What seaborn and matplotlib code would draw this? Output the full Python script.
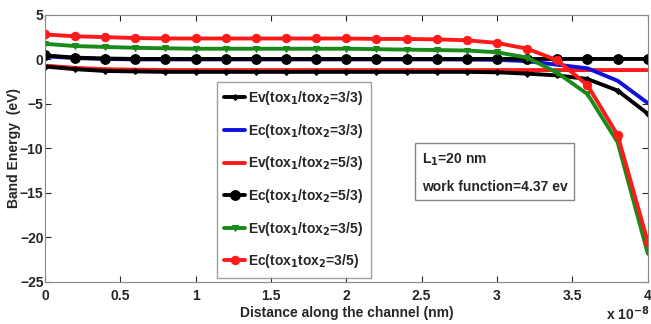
import numpy as np
import pandas as pd
import seaborn as sns
import matplotlib.pyplot as plt

# distance along the channel, in units of 1e-8 m
x = [0.0, 0.2, 0.4, 0.6, 0.8, 1.0, 1.2, 1.4, 1.6, 1.8, 2.0,
     2.2, 2.4, 2.6, 2.8, 3.0, 3.2, 3.4, 3.6, 3.8, 4.0]

ev_33 = [-0.8, -1.1, -1.3, -1.35, -1.4, -1.4, -1.4, -1.4, -1.4, -1.4, -1.4,
         -1.4, -1.4, -1.4, -1.4, -1.45, -1.6, -1.8, -2.2, -3.5, -6.1]
ec_33 = [0.35, 0.15, 0.05, 0.0, 0.0, 0.0, 0.0, 0.0, 0.0, 0.0, 0.0,
         0.0, 0.0, 0.0, -0.02, -0.05, -0.2, -0.6, -1.0, -2.4, -4.9]
ev_53 = [-0.7, -0.95, -1.1, -1.15, -1.2, -1.2, -1.2, -1.2, -1.2, -1.2, -1.2,
         -1.2, -1.2, -1.2, -1.2, -1.2, -1.2, -1.2, -1.2, -1.2, -1.2]
ec_53 = [0.45, 0.2, 0.1, 0.05, 0.05, 0.05, 0.05, 0.05, 0.05, 0.05, 0.05,
         0.05, 0.05, 0.05, 0.05, 0.05, 0.05, 0.05, 0.05, 0.05, 0.05]
ev_35 = [1.75, 1.5, 1.4, 1.3, 1.25, 1.2, 1.2, 1.2, 1.2, 1.2, 1.2,
         1.15, 1.1, 1.05, 1.0, 0.8, 0.2, -1.5, -3.9, -9.3, -21.8]
ec_35 = [2.8, 2.6, 2.5, 2.4, 2.35, 2.35, 2.35, 2.35, 2.35, 2.35, 2.35,
         2.3, 2.3, 2.25, 2.15, 1.85, 1.2, -0.1, -2.9, -8.5, -20.5]

labels = ["Ev(tox$_1$/tox$_2$=3/3)", "Ec(tox$_1$/tox$_2$=3/3)",
          "Ev(tox$_1$/tox$_2$=5/3)", "Ec(tox$_1$/tox$_2$=5/3)",
          "Ev(tox$_1$/tox$_2$=3/5)", "Ec(tox$_1$tox$_2$=3/5)"]

sns.set_style("ticks")
plt.rcParams['font.family'] = ['Liberation Sans', 'DejaVu Sans']
plt.rcParams['font.weight'] = 'bold'
plt.rcParams['xtick.direction'] = 'in'
plt.rcParams['ytick.direction'] = 'in'

fig, ax = plt.subplots(figsize=(6.51, 3.24), dpi=100)
fig.subplots_adjust(left=0.069, right=0.995, top=0.954, bottom=0.13)

# draw order: flat red first so the others sit on top of it
series = [
    (ev_53, labels[2], "#ff1a1a", None, 0),
    (ev_33, labels[0], "black", "D", 3),
    (ec_33, labels[1], "#1010e0", None, 0),
    (ec_53, labels[3], "black", "o", 7),
    (ev_35, labels[4], "#1a8a1a", "v", 5),
    (ec_35, labels[5], "#ff1a1a", "o", 6),
]
handles = {}
for vals, lab, col, mk, ms in series:
    sns.lineplot(x=x, y=vals, ax=ax, color=col, linewidth=2.8,
                 marker=mk, markersize=ms, markeredgecolor=col,
                 label=lab, legend=False)
    handles[lab] = ax.lines[-1]

ax.set_xlim(0, 4)
ax.set_ylim(-25, 5)
ax.set_xticks([0, 0.5, 1, 1.5, 2, 2.5, 3, 3.5, 4])
ax.set_xticklabels(["0", "0.5", "1", "1.5", "2", "2.5", "3", "3.5", "4"])
ax.set_yticks([5, 0, -5, -10, -15, -20, -25])
ax.tick_params(labelsize=10, length=4, top=True, right=True)
ax.tick_params(axis='x', pad=5)
ax.tick_params(axis='y', pad=1)
for t in ax.get_xticklabels() + ax.get_yticklabels():
    t.set_fontweight('bold')
for s in ax.spines.values():
    s.set_color('#888888')

ax.set_xlabel("Distance along the channel (nm)", fontsize=10, fontweight='bold', labelpad=2)
ax.set_ylabel("Band Energy  (eV)", fontsize=10, fontweight='bold', labelpad=-1)
fig.text(0.997, 0.004, "x 10$^{-8}$", ha='right', va='bottom',
         fontsize=10, fontweight='bold')

leg = ax.legend([handles[l] for l in labels], labels, loc='upper left',
                bbox_to_anchor=(0.285, 0.75), fontsize=10, frameon=True,
                fancybox=False, edgecolor='#888888', handlelength=1.5,
                handletextpad=0.2, labelspacing=1.05, borderpad=0.55,
                borderaxespad=0)
leg.get_frame().set_linewidth(1.0)

ax.text(0.625, 0.41, "L$_1$=20 nm\n\nwork function=4.37 ev", transform=ax.transAxes,
        ha='left', va='center', fontsize=10, fontweight='bold', linespacing=0.9,
        bbox=dict(boxstyle='square,pad=0.5', facecolor='white', edgecolor='#888888'))

fig.savefig("out.png", dpi=100)
